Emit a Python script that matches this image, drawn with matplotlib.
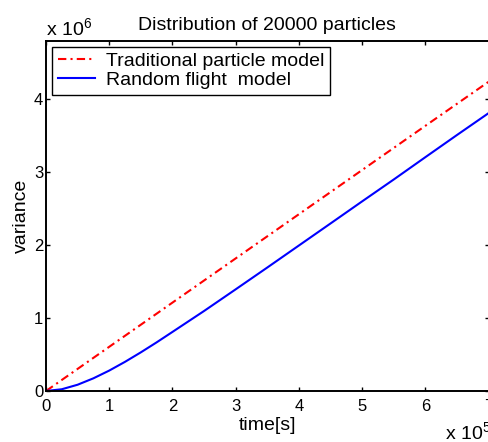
import numpy as np
import matplotlib
matplotlib.use("Agg")
import matplotlib.pyplot as plt
from matplotlib.ticker import FuncFormatter

plt.rcParams['font.family'] = ['Liberation Sans', 'DejaVu Sans']
plt.rcParams['mathtext.fontset'] = 'custom'
plt.rcParams['mathtext.rm'] = 'Liberation Sans'

# values (time in s, variance)
t_trad = [0, 1e5, 2e5, 3e5, 4e5, 5e5, 6e5, 7e5]
var_trad = [0, 0.606e6, 1.212e6, 1.818e6, 2.424e6, 3.03e6, 3.636e6, 4.24e6]

t_rf = [0, 0.25e5, 0.5e5, 0.75e5, 1e5, 1.25e5, 1.5e5, 1.75e5, 2e5, 2.5e5,
        3e5, 3.5e5, 4e5, 4.5e5, 5e5, 5.5e5, 6e5, 6.5e5, 7e5]
var_rf = [0, 0.024e6, 0.086e6, 0.174e6, 0.28e6, 0.40e6, 0.53e6, 0.667e6,
          0.81e6, 1.097e6, 1.394e6, 1.693e6, 1.995e6, 2.297e6, 2.60e6,
          2.90e6, 3.206e6, 3.51e6, 3.81e6]

xticks = [0, 1e5, 2e5, 3e5, 4e5, 5e5, 6e5, 7e5]
yticks = [0, 1e6, 2e6, 3e6, 4e6]

W, H = 488, 442
fig = plt.figure(figsize=(W / 100, H / 100), dpi=100)
ax = fig.add_axes([46 / W, 51 / H, 442.5 / W, 350 / H])

ax.plot(t_trad, var_trad, color='red', lw=1.5, dashes=(4, 2, 1, 2),
        label='Traditional particle model')
ax.plot(t_rf, var_rf, color='blue', lw=1.5, label='Random flight  model')

ax.set_xlim(0, 7e5)
ax.set_ylim(0, 4.8e6)
ax.set_xticks(xticks)
ax.set_yticks(yticks)
ax.xaxis.set_major_formatter(FuncFormatter(lambda v, p: f'{v / 1e5:g}'))
ax.yaxis.set_major_formatter(FuncFormatter(lambda v, p: f'{v / 1e6:g}'))
ax.tick_params(direction='in', top=True, right=True, length=3, width=1,
               labelsize=12)
ax.tick_params(axis='x', pad=6)
ax.tick_params(axis='y', pad=2)
for s in ax.spines.values():
    s.set_linewidth(1.4)

ax.set_title('Distribution of 20000 particles', fontsize=14, pad=8)
ax.set_xlabel('time[s]', fontsize=14, labelpad=2)
ax.set_ylabel('variance', fontsize=14, labelpad=3)

fig.text(46 / W, 1 - 36 / H, r'x 10$^{6}$', fontsize=14, ha='left',
         va='baseline')
fig.text(445 / W, 1 - 440 / H, r'x 10$^{5}$', fontsize=14, ha='left',
         va='baseline')

leg = ax.legend(loc='upper left', fontsize=14, frameon=True, fancybox=False,
                edgecolor='black', framealpha=1, borderaxespad=0.3,
                borderpad=0.3, handlelength=1.9, handletextpad=0.6,
                labelspacing=0.05)
leg.get_frame().set_linewidth(1.0)

fig.savefig('out.png', dpi=100)
